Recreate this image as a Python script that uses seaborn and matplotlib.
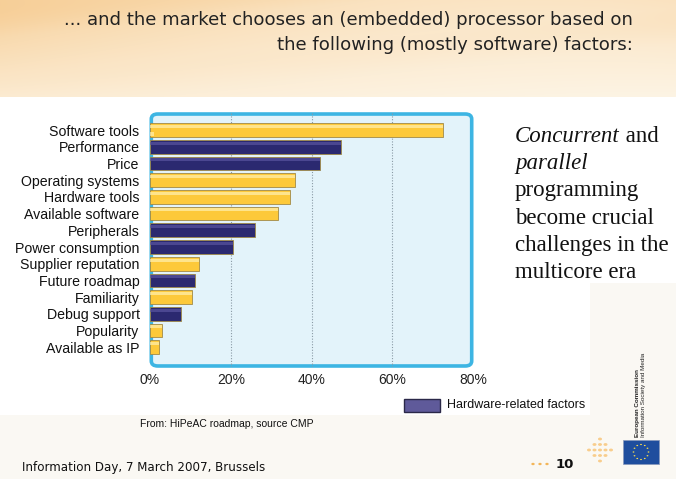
import numpy as np
import pandas as pd
import matplotlib
matplotlib.use("Agg")
import matplotlib.pyplot as plt
import seaborn as sns
from matplotlib.patches import FancyBboxPatch, Rectangle, Circle

factors = ["Software tools", "Performance", "Price", "Operating systems",
           "Hardware tools", "Available software", "Peripherals",
           "Power consumption", "Supplier reputation", "Future roadmap",
           "Familiarity", "Debug support", "Popularity", "Available as IP"]
values = [72.5, 47.3, 42.1, 36.0, 34.7, 31.6, 26.1, 20.5, 12.1, 11.2, 10.3, 7.7, 3.0, 2.2]
kinds = ["Software", "Hardware", "Hardware", "Software", "Software", "Software",
         "Hardware", "Hardware", "Software", "Hardware", "Software", "Hardware",
         "Software", "Software"]
tick_values = [0, 20, 40, 60, 80]
tick_labels = ["0%", "20%", "40%", "60%", "80%"]

df = pd.DataFrame({"factor": factors, "value": values, "kind": kinds})

sns.set_theme(style="white")
plt.rcParams['font.family'] = ['Liberation Sans', 'DejaVu Sans']

W, H = 676, 479
fig = plt.figure(figsize=(W / 100, H / 100), dpi=100)
fig.patch.set_facecolor("#FAF8F3")

def fx(x):
    return x / W

def fy(y):
    return 1 - y / H

# top decorative band
band = fig.add_axes([0, fy(97), 1, 97 / H], zorder=0)
u = np.linspace(0, 1, 676)[None, :]
v = np.linspace(0, 1, 97)[:, None]
w = 0.65 * (1 - u) ** 1.6 * (1 - 0.7 * v) + 0.25 * (1 - v) * u ** 2 + 0.12 * (1 - v)
w = w + 0.08 * np.clip(np.sin(2 * np.pi * (v * 1.3 + u * 0.9)), 0, 1) * (1 - v)
w = np.clip(w, 0, 1)
base = np.array([253, 244, 228]) / 255
orange = np.array([245, 196, 130]) / 255
img = base[None, None, :] * (1 - w[..., None]) + orange[None, None, :] * w[..., None]
band.imshow(img, aspect="auto", extent=[0, 1, 0, 1])
band.axis("off")

# white content panels
fig.patches.append(Rectangle((0, fy(415)), fx(590), (415 - 97) / H,
                             transform=fig.transFigure, facecolor="white",
                             edgecolor="none", zorder=0))
fig.patches.append(Rectangle((fx(590), fy(283)), fx(86), (283 - 97) / H,
                             transform=fig.transFigure, facecolor="white",
                             edgecolor="none", zorder=0))

# main chart
ax = fig.add_axes([fx(150), fy(367), fx(473 - 150), (367 - 113) / H], zorder=2)
ax.set_facecolor("none")
ax.add_patch(FancyBboxPatch((0.004, 0.004), 0.992, 0.992,
                            boxstyle="round,pad=0,rounding_size=0.02",
                            transform=ax.transAxes, facecolor="#E3F3FA",
                            edgecolor="#3DB5E3", linewidth=2.6, zorder=0,
                            clip_on=False))
for xv in tick_values[1:-1]:
    ax.axvline(xv, color="#8A9AA5", linestyle=(0, (1, 1.5)), linewidth=0.8, zorder=1)

sns.barplot(data=df, y="factor", x="value", hue="kind", orient="h",
            palette={"Software": "#FDC93A", "Hardware": "#2B2970"},
            saturation=1, dodge=False, legend=False, width=0.82, ax=ax, zorder=3,
            edgecolor="#A08A48", linewidth=0.6)

# light highlight along the top of each bar (glossy look)
for bar in list(ax.patches):
    if bar.get_width() <= 0:
        continue
    y0 = bar.get_y()
    h = bar.get_height()
    fc = bar.get_facecolor()
    hl = "#FFF0B0" if fc[0] > 0.5 else "#5A55A0"
    ax.add_patch(Rectangle((bar.get_x(), y0 + h * 0.12), bar.get_width(), h * 0.22,
                           facecolor=hl, edgecolor="none", alpha=0.7, zorder=4))

ax.set_xlim(0, 80)
ax.set_ylim(14.18, -1.02)
ax.set_xticks(tick_values)
ax.set_xticklabels(tick_labels, fontsize=10, color="#222222")
ax.tick_params(axis="x", length=0, pad=4)
ax.tick_params(axis="y", length=0, pad=7.5, labelsize=10.2, labelcolor="#111111")
ax.set_xlabel("")
ax.set_ylabel("")
for s in ax.spines.values():
    s.set_visible(False)

# title
tcol = "#222222"
fig.text(fx(633), fy(20), "... and the market chooses an (embedded) processor based on",
         ha="right", va="center", fontsize=13.1, family=["DejaVu Sans"], color=tcol)
fig.text(fx(633), fy(45), "the following (mostly software) factors:",
         ha="right", va="center", fontsize=13.1, family=["DejaVu Sans"], color=tcol)

# right side text
serif = ["Liberation Serif", "DejaVu Serif"]
fs_r = 16.5
fig.canvas.draw()
renderer = fig.canvas.get_renderer()
t1 = fig.text(fx(515), fy(137), "Concurrent", ha="left", va="center",
              fontsize=fs_r, family=serif, style="italic", color="#111111")
bb = t1.get_window_extent(renderer=renderer)
fig.text(bb.x1 / (fig.dpi * fig.get_figwidth()), fy(137), " and", ha="left", va="center",
         fontsize=fs_r, family=serif, color="#111111")
fig.text(fx(515), fy(164), "parallel", ha="left", va="center",
         fontsize=fs_r, family=serif, style="italic", color="#111111")
for i, line in enumerate(["programming", "become crucial", "challenges in the", "multicore era"]):
    fig.text(fx(515), fy(191 + 27.3 * i), line, ha="left", va="center",
             fontsize=fs_r, family=serif, color="#111111")

# legend
fig.patches.append(Rectangle((fx(404), fy(412)), fx(36), 13 / H,
                             transform=fig.transFigure, facecolor="#5F5A9A",
                             edgecolor="#2A2848", linewidth=1, zorder=3))
fig.text(fx(447), fy(405.5), "Hardware-related factors", ha="left", va="center",
         fontsize=9, color="#111111")

# source
fig.text(fx(140), fy(424), "From: HiPeAC roadmap, source CMP", ha="left", va="center",
         fontsize=7.5, color="#111111")

# footer
fig.text(fx(22), fy(468), "Information Day, 7 March 2007, Brussels", ha="left", va="center",
         fontsize=8.6, family=["DejaVu Sans"], color="#111111")
for xd in [533, 540, 547]:
    fig.patches.append(Circle((fx(xd), fy(464)), 1.7 / W, transform=fig.transFigure,
                              facecolor="#F3B65A", edgecolor="none", zorder=3))
fig.text(fx(556), fy(464), "10", ha="left", va="center", fontsize=9.5,
         fontweight="bold", family=["DejaVu Sans"], color="#111111")

# orange cross of dots
for yd in [439, 444.5, 450, 455.5, 461]:
    fig.patches.append(Circle((fx(600), fy(yd)), 2.0 / W, transform=fig.transFigure,
                              facecolor="#F8CD8C", edgecolor="none", zorder=3))
for xd in [589, 594.5, 605.5, 611]:
    fig.patches.append(Circle((fx(xd), fy(450)), 2.0 / W, transform=fig.transFigure,
                              facecolor="#F8CD8C", edgecolor="none", zorder=3))
for xd in [594.5, 605.5]:
    for yd in [444.5, 455.5]:
        fig.patches.append(Circle((fx(xd), fy(yd)), 2.0 / W, transform=fig.transFigure,
                                  facecolor="#F8CD8C", edgecolor="none", zorder=3))

# EU flag
fig.patches.append(Rectangle((fx(623), fy(464)), fx(36), 24 / H,
                             transform=fig.transFigure, facecolor="#1F4E9E",
                             edgecolor="#8899BB", linewidth=0.5, zorder=3))
for k in range(12):
    ang = 2 * np.pi * k / 12
    fig.patches.append(Circle((fx(641 + 7.5 * np.cos(ang)), fy(452 + 7.5 * np.sin(ang))),
                              0.9 / W, transform=fig.transFigure,
                              facecolor="#FFE14A", edgecolor="none", zorder=4))
fig.text(fx(637), fy(437), "European Commission", rotation=90, ha="center", va="bottom",
         fontsize=4.5, fontweight="bold", color="#222222")
fig.text(fx(644), fy(437), "Information Society and Media", rotation=90, ha="center",
         va="bottom", fontsize=4.5, color="#222222")

fig.savefig("out.png", dpi=100, facecolor=fig.get_facecolor())
